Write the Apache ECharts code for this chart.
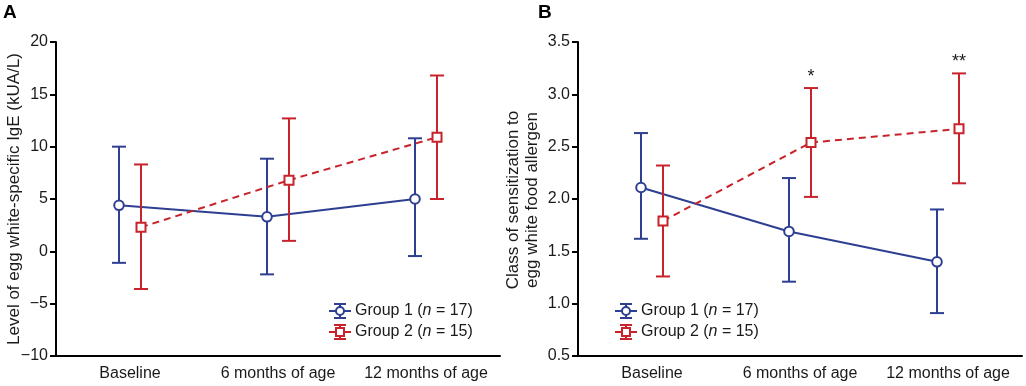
<!DOCTYPE html>
<html><head><meta charset="utf-8">
<script src="https://cdn.jsdelivr.net/npm/echarts@6/dist/echarts.min.js"></script>
<style>html,body{margin:0;padding:0;background:#fff}#c{width:1026px;height:386px}</style>
</head><body><div id="c"></div>
<script>
// ---------- data ----------
const categories = ['Baseline', '6 months of age', '12 months of age'];
const groupNames = ['Group 1', 'Group 2'];
const groupN = [17, 15];
// Panel A: level of egg white-specific IgE (kUA/L)
const igeG1Mean = [4.4, 3.3, 5.0];
const igeG1Low  = [-1.1, -2.2, -0.45];
const igeG1High = [10.0, 8.85, 10.8];
const igeG2Mean = [2.3, 6.8, 10.9];
const igeG2Low  = [-3.6, 1.0, 5.0];
const igeG2High = [8.3, 12.7, 16.8];
// Panel B: class of sensitization
const clsG1Mean = [2.11, 1.69, 1.40];
const clsG1Low  = [1.62, 1.21, 0.91];
const clsG1High = [2.63, 2.20, 1.90];
const clsG2Mean = [1.79, 2.54, 2.67];
const clsG2Low  = [1.26, 2.02, 2.15];
const clsG2High = [2.32, 3.06, 3.20];
const significance = ['', '*', '**'];
const axisA = {min: -10, max: 20, interval: 5};
const axisB = {min: 0.5, max: 3.5, interval: 0.5};

// ---------- styles ----------
const FONT = '"Liberation Sans", Arial, Helvetica, sans-serif';
const BLUE = '#2e3f92';
const RED = '#c8232b';
const TXT = '#1a1a1a';

function errSeries(gridIdx, mean, low, high, color, marker, dashed, off, sig) {
  const data = mean.map((m, i) => [i, m, low[i], high[i]]);
  return {
    type: 'custom', xAxisIndex: gridIdx, yAxisIndex: gridIdx, data,
    encode: {x: 0, y: [1, 2, 3]}, clip: false, silent: true,
    renderItem(params, api) {
      const i = api.value(0);
      const p = api.coord([i, api.value(1)]);
      const lo = api.coord([i, api.value(2)]);
      const hi = api.coord([i, api.value(3)]);
      const x = p[0] + off;
      const ch = [];
      if (i < mean.length - 1) {
        const q = api.coord([i + 1, mean[i + 1]]);
        ch.push({type: 'line', shape: {x1: x, y1: p[1], x2: q[0] + off, y2: q[1]},
          style: {stroke: color, lineWidth: 2, lineDash: dashed ? [7, 5] : null}});
      }
      const cap = 7;
      const ls = {stroke: color, lineWidth: 2};
      ch.push({type: 'line', shape: {x1: x, y1: hi[1], x2: x, y2: lo[1]}, style: ls});
      ch.push({type: 'line', shape: {x1: x - cap, y1: hi[1], x2: x + cap, y2: hi[1]}, style: ls});
      ch.push({type: 'line', shape: {x1: x - cap, y1: lo[1], x2: x + cap, y2: lo[1]}, style: ls});
      if (marker === 'circle') {
        ch.push({type: 'circle', shape: {cx: x, cy: p[1], r: 4.8}, style: {fill: '#fff', stroke: color, lineWidth: 2}});
      } else {
        ch.push({type: 'rect', shape: {x: x - 4.5, y: p[1] - 4.5, width: 9, height: 9}, style: {fill: '#fff', stroke: color, lineWidth: 2}});
      }
      if (sig && sig[i]) {
        ch.push({type: 'text', x: x, y: hi[1] - 2,
          style: {text: sig[i], fill: TXT, font: '18px ' + FONT, align: 'center', verticalAlign: 'bottom'}});
      }
      return {type: 'group', children: ch};
    }
  };
}

function legendEntry(x, y, color, marker, k) {
  const ls = {stroke: color, lineWidth: 2};
  const m = marker === 'circle'
    ? {type: 'circle', shape: {cx: 11, cy: 0, r: 4}, style: {fill: '#fff', stroke: color, lineWidth: 2}}
    : {type: 'rect', shape: {x: 7, y: -4, width: 8, height: 8}, style: {fill: '#fff', stroke: color, lineWidth: 2}};
  return {
    type: 'group', x, y, children: [
      {type: 'line', shape: {x1: 0, y1: 0, x2: 22, y2: 0}, style: ls},
      {type: 'line', shape: {x1: 11, y1: -7, x2: 11, y2: 7}, style: ls},
      {type: 'line', shape: {x1: 5, y1: -7, x2: 17, y2: -7}, style: ls},
      {type: 'line', shape: {x1: 5, y1: 7, x2: 17, y2: 7}, style: ls},
      m,
      {type: 'text', x: 26, y: 0, style: {
        text: '{a|' + groupNames[k] + ' (}{i|n}{a| = ' + groupN[k] + ')}',
        verticalAlign: 'middle', align: 'left',
        rich: {a: {font: '16px ' + FONT, fill: TXT}, i: {font: 'italic 16px ' + FONT, fill: TXT}}
      }}
    ]
  };
}

const axisLineStyle = {color: '#000', width: 2};
function xAx(g) {
  return {gridIndex: g, type: 'category', data: categories, boundaryGap: true,
    axisLine: {onZero: false, lineStyle: axisLineStyle},
    axisTick: {alignWithLabel: true, length: 5, lineStyle: axisLineStyle},
    axisLabel: {fontSize: 16, color: TXT, fontFamily: FONT, margin: 10, interval: 0},
    splitLine: {show: false}};
}
function yAx(g, a, fmt) {
  return {gridIndex: g, type: 'value', min: a.min, max: a.max, interval: a.interval,
    axisLine: {show: true, onZero: false, lineStyle: axisLineStyle},
    axisTick: {show: true, length: 6, lineStyle: axisLineStyle},
    axisLabel: {fontSize: 16, color: TXT, fontFamily: FONT, margin: 8, formatter: fmt},
    splitLine: {show: false}};
}

const chart = echarts.init(document.getElementById('c'), null, {renderer: 'canvas'});
chart.setOption({
  animation: false,
  backgroundColor: '#fff',
  grid: [
    {left: 56, top: 42, width: 444, height: 314},
    {left: 578, top: 42, width: 444, height: 314}
  ],
  xAxis: [xAx(0), xAx(1)],
  yAxis: [
    yAx(0, axisA, v => v < 0 ? '\u2212' + Math.abs(v) : String(v)),
    yAx(1, axisB, v => v.toFixed(1))
  ],
  series: [
    errSeries(0, igeG1Mean, igeG1Low, igeG1High, BLUE, 'circle', false, -11),
    errSeries(0, igeG2Mean, igeG2Low, igeG2High, RED, 'square', true, 11),
    errSeries(1, clsG1Mean, clsG1Low, clsG1High, BLUE, 'circle', false, -11),
    errSeries(1, clsG2Mean, clsG2Low, clsG2High, RED, 'square', true, 11, significance)
  ],
  graphic: [
    {type: 'text', x: 3, y: 3, style: {text: 'A', font: 'bold 19px ' + FONT, fill: '#000'}},
    {type: 'text', x: 538, y: 3, style: {text: 'B', font: 'bold 19px ' + FONT, fill: '#000'}},
    {type: 'text', x: 14, y: 199, rotation: Math.PI / 2,
      style: {text: 'Level of egg white-specific IgE (kUA/L)', font: '17px ' + FONT, fill: TXT, align: 'center', verticalAlign: 'middle'}},
    {type: 'text', x: 523, y: 200, rotation: Math.PI / 2,
      style: {text: 'Class of sensitization to\negg white food allergen', font: '17px ' + FONT, fill: TXT, align: 'center', verticalAlign: 'middle', lineHeight: 19}},
    legendEntry(329, 311, BLUE, 'circle', 0),
    legendEntry(329, 332, RED, 'square', 1),
    legendEntry(615, 311, BLUE, 'circle', 0),
    legendEntry(615, 332, RED, 'square', 1)
  ]
});
</script>
</body></html>
